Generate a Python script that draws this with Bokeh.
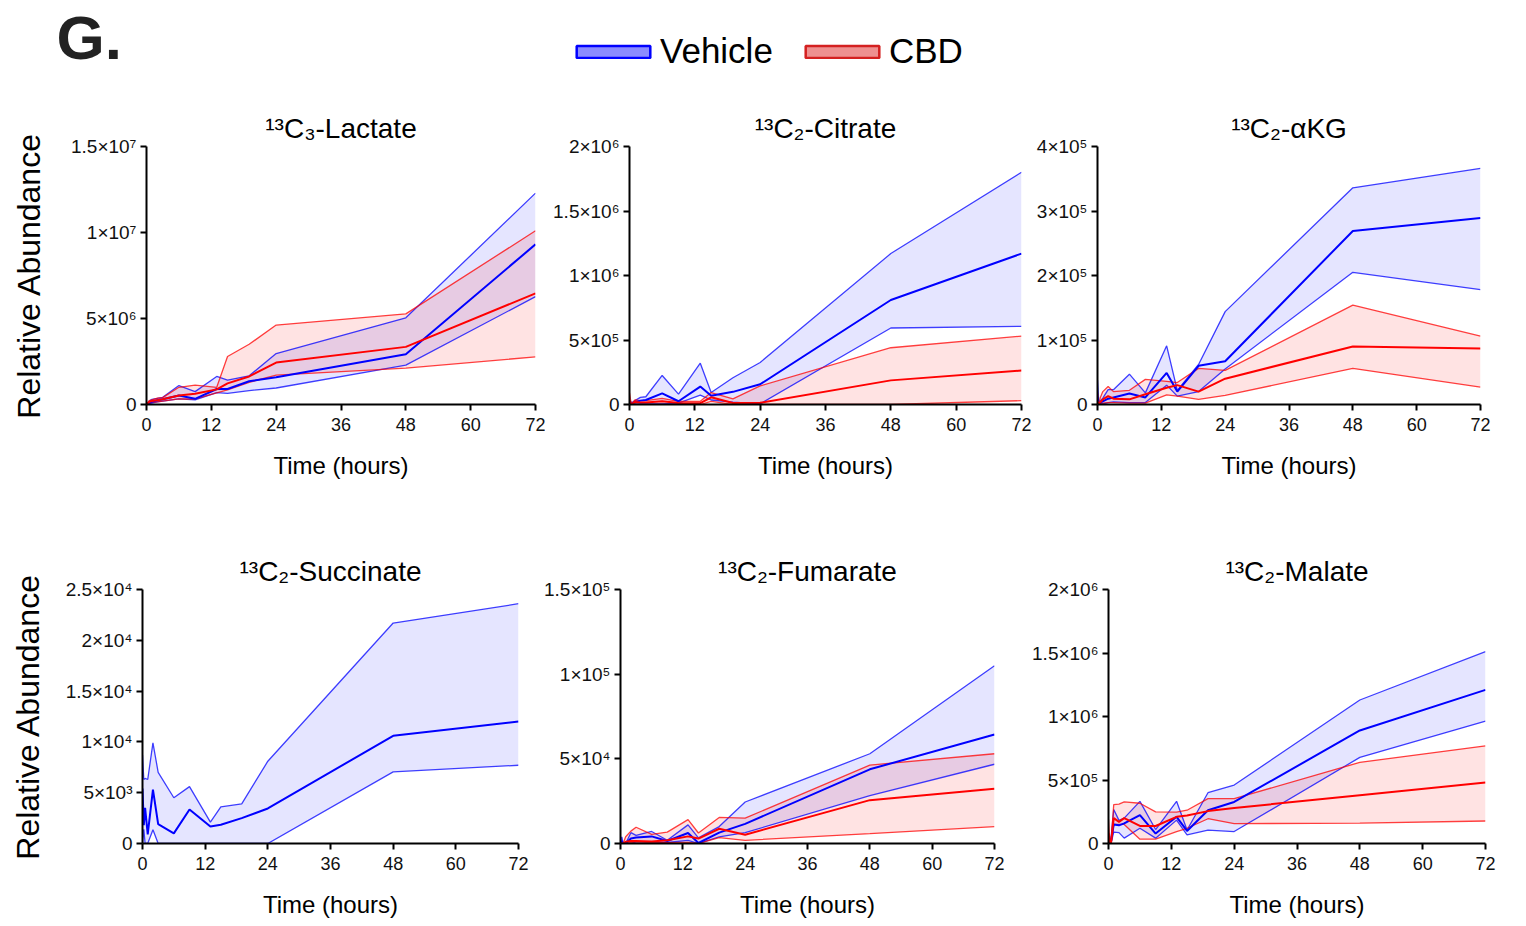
import math
from bokeh.plotting import figure
from bokeh.models import Range1d, FixedTicker, Label, Legend, LegendItem
from bokeh.layouts import column, row
from bokeh.embed import file_html
from bokeh.resources import INLINE

FONT = "Liberation Sans"

# ---------------- data ----------------
times = [0, 0.25, 0.5, 1, 2, 3, 6, 9, 13, 15, 19, 24, 48, 72]
x_ticks = [0, 12, 24, 36, 48, 60, 72]
x_label = "Time (hours)"
y_label = "Relative Abundance"
groups = ["Vehicle", "CBD"]

# 13C3-Lactate (x1e6)
lactate_unit = 1e6
lactate_veh_upper = [0, 0.10, 0.20, 0.30, 0.35, 0.42, 1.10, 0.75, 1.63, 1.42, 1.67, 2.96, 5.04, 12.29]
lactate_veh_mean = [0, 0.05, 0.10, 0.15, 0.25, 0.30, 0.52, 0.33, 0.90, 0.90, 1.35, 1.58, 2.92, 9.31]
lactate_veh_lower = [0, 0.02, 0.05, 0.08, 0.15, 0.20, 0.33, 0.27, 0.69, 0.65, 0.81, 0.96, 2.29, 6.27]
lactate_cbd_upper = [0, 0.12, 0.22, 0.27, 0.37, 0.40, 1.00, 1.13, 1.00, 2.79, 3.50, 4.62, 5.27, 10.10]
lactate_cbd_mean = [0, 0.08, 0.15, 0.20, 0.25, 0.30, 0.52, 0.62, 0.88, 1.23, 1.63, 2.44, 3.35, 6.46]
lactate_cbd_lower = [0, 0.04, 0.08, 0.12, 0.15, 0.20, 0.33, 0.32, 0.67, 0.85, 1.29, 1.71, 2.12, 2.77]
lactate_ticks = [0, 5e6, 1e7, 1.5e7]
lactate_tick_labels = ["0", "5×10⁶", "1×10⁷", "1.5×10⁷"]

# 13C2-Citrate (x1e6)
citrate_unit = 1e6
citrate_veh_upper = [0.03, 0.02, 0.015, 0.03, 0.055, 0.06, 0.225, 0.08, 0.32, 0.093, 0.207, 0.326, 1.17, 1.80]
citrate_veh_mean = [0.02, 0.01, 0.01, 0.015, 0.03, 0.035, 0.086, 0.025, 0.139, 0.068, 0.098, 0.157, 0.81, 1.17]
citrate_veh_lower = [0, 0, 0, 0, 0.005, 0.005, 0.005, 0.01, 0.073, 0.035, 0.018, 0.005, 0.593, 0.606]
citrate_cbd_upper = [0.09, 0.02, 0.01, 0.035, 0.03, 0.03, 0.048, 0.025, 0.025, 0.093, 0.043, 0.144, 0.44, 0.53]
citrate_cbd_mean = [0.03, 0.01, 0.005, 0.02, 0.015, 0.015, 0.025, 0.012, 0.01, 0.056, 0.012, 0.013, 0.187, 0.263]
citrate_cbd_lower = [0, 0, 0, 0, 0, 0, 0, 0, 0, 0.025, 0, 0, 0, 0.03]
citrate_ticks = [0, 5e5, 1e6, 1.5e6, 2e6]
citrate_tick_labels = ["0", "5×10⁵", "1×10⁶", "1.5×10⁶", "2×10⁶"]

# 13C2-aKG (x1e5)
akg_unit = 1e5
akg_veh_upper = [0.38, 0.03, 0.05, 0.10, 0.23, 0.23, 0.47, 0.18, 0.91, 0.22, 0.62, 1.44, 3.36, 3.66]
akg_veh_mean = [0.12, 0.01, 0.02, 0.05, 0.09, 0.11, 0.17, 0.11, 0.49, 0.20, 0.60, 0.67, 2.69, 2.89]
akg_veh_lower = [0, 0, 0, 0.01, 0.03, 0.04, 0.03, 0.03, 0.30, 0.13, 0.20, 0.55, 2.05, 1.78]
akg_cbd_upper = [0.18, 0.01, 0.10, 0.20, 0.28, 0.20, 0.22, 0.39, 0.36, 0.34, 0.56, 0.53, 1.54, 1.06]
akg_cbd_mean = [0.05, 0.01, 0.03, 0.08, 0.13, 0.09, 0.08, 0.16, 0.26, 0.30, 0.20, 0.40, 0.90, 0.87]
akg_cbd_lower = [0, 0, 0, 0.02, 0.03, 0.03, 0.02, 0.02, 0.15, 0.13, 0.08, 0.14, 0.56, 0.27]
akg_ticks = [0, 1e5, 2e5, 3e5, 4e5]
akg_tick_labels = ["0", "1×10⁵", "2×10⁵", "3×10⁵", "4×10⁵"]

# 13C2-Succinate (x1e3) - Vehicle only
succinate_unit = 1e3
succinate_veh_upper = [8.7, 6.3, 6.4, 6.3, 9.9, 7.0, 4.5, 5.6, 2.1, 3.6, 3.9, 8.1, 21.7, 23.6]
succinate_veh_mean = [5.4, 1.8, 3.5, 0.9, 5.3, 1.9, 1.0, 3.35, 1.67, 1.84, 2.5, 3.45, 10.6, 12.0]
succinate_veh_lower = [0, 1.4, 0, 0, 1.35, 0, 0, 0, 0, 0, 0, 0, 7.05, 7.7]
succinate_ticks = [0, 5e3, 1e4, 1.5e4, 2e4, 2.5e4]
succinate_tick_labels = ["0", "5×10³", "1×10⁴", "1.5×10⁴", "2×10⁴", "2.5×10⁴"]

# 13C2-Fumarate (x1e3)
fumarate_unit = 1e3
fumarate_veh_upper = [0, 3.9, 0, 0, 6.4, 4.8, 7.1, 1.9, 11.0, 3.3, 10.0, 24.5, 53.0, 105.0]
fumarate_veh_mean = [0, 1.5, 0, 0, 3.0, 3.5, 4.2, 1.5, 6.2, 0.3, 6.4, 11.6, 43.8, 64.4]
fumarate_veh_lower = [0, 0, 0, 0, 0, 1.0, 1.0, 0.6, 1.9, 0, 3.9, 6.4, 28.3, 46.8]
fumarate_cbd_upper = [0, 0, 0, 4.0, 7.3, 9.6, 5.4, 6.7, 14.1, 6.2, 15.4, 15.0, 46.3, 53.0]
fumarate_cbd_mean = [0, 0, 0, 1.0, 1.5, 1.5, 1.2, 1.9, 4.2, 2.9, 8.7, 5.2, 25.6, 32.4]
fumarate_cbd_lower = [0, 0, 0, 0, 0.5, 1.0, 0.5, 0.5, 0.6, 0, 3.5, 1.9, 5.8, 10.0]
fumarate_ticks = [0, 5e4, 1e5, 1.5e5]
fumarate_tick_labels = ["0", "5×10⁴", "1×10⁵", "1.5×10⁵"]

# 13C2-Malate (x1e6)
malate_unit = 1e6
malate_veh_upper = [0.01, 0.01, 0.05, 0.267, 0.182, 0.20, 0.332, 0.11, 0.332, 0.106, 0.40, 0.46, 1.13, 1.51]
malate_veh_mean = [0.005, 0.005, 0.02, 0.15, 0.143, 0.158, 0.223, 0.078, 0.21, 0.099, 0.262, 0.327, 0.89, 1.21]
malate_veh_lower = [0, 0, 0.005, 0.09, 0.086, 0.042, 0.12, 0.042, 0.184, 0.068, 0.106, 0.094, 0.678, 0.963]
malate_cbd_upper = [0.19, 0.01, 0.02, 0.306, 0.31, 0.327, 0.317, 0.249, 0.247, 0.262, 0.353, 0.353, 0.639, 0.769]
malate_cbd_mean = [0.08, 0.005, 0.01, 0.20, 0.17, 0.20, 0.138, 0.138, 0.21, 0.22, 0.255, 0.28, 0.379, 0.48]
malate_cbd_lower = [0, 0, 0, 0.15, 0.15, 0.15, 0.034, 0.034, 0.094, 0.12, 0.195, 0.156, 0.161, 0.177]
malate_ticks = [0, 5e5, 1e6, 1.5e6, 2e6]
malate_tick_labels = ["0", "5×10⁵", "1×10⁶", "1.5×10⁶", "2×10⁶"]

lactate_title = "¹³C₃-Lactate"
citrate_title = "¹³C₂-Citrate"
akg_title = "¹³C₂-αKG"
succinate_title = "¹³C₂-Succinate"
fumarate_title = "¹³C₂-Fumarate"
malate_title = "¹³C₂-Malate"

# ---------------- style ----------------
VEH = "#0000ff"
CBD = "#ff0000"


def make_panel(width, height, bl, br, bt, bb, ticks, tick_labels, title, label_standoff,
               veh, cbd, unit, ylab_standoff=None):
    ymax = ticks[-1]
    p = figure(width=width, height=height, x_range=Range1d(0, 72), y_range=Range1d(0, ymax),
               output_backend="svg", toolbar_location=None, title=title,
               min_border_left=bl, min_border_right=br, min_border_top=bt, min_border_bottom=bb,
               outline_line_color=None, background_fill_color="white", border_fill_color="white")
    p.title.align = "center"
    p.title.text_font = FONT
    p.title.text_font_size = "28px"
    p.title.text_font_style = "normal"
    p.title.text_color = "black"
    p.title.standoff = 5
    p.grid.visible = False
    series = [(veh, VEH, 0.10)]
    if cbd is not None:
        series.append((cbd, CBD, 0.11))
    for (up, mn, lo), col, fa in series:
        p.varea(x=times, y1=[v * unit for v in lo], y2=[v * unit for v in up],
                fill_color=col, fill_alpha=fa)
    for (up, mn, lo), col, fa in series:
        p.line(times, [v * unit for v in up], line_color=col, line_width=1.3, line_alpha=0.75)
        p.line(times, [v * unit for v in lo], line_color=col, line_width=1.3, line_alpha=0.75)
    for (up, mn, lo), col, fa in series:
        p.line(times, [v * unit for v in mn], line_color=col, line_width=2)

    p.xaxis.ticker = FixedTicker(ticks=x_ticks)
    p.yaxis.ticker = FixedTicker(ticks=ticks)
    p.yaxis.major_label_overrides = {float(t): l for t, l in zip(ticks, tick_labels)}
    for ax in (p.xaxis[0], p.yaxis[0]):
        ax.axis_line_color = "black"
        ax.axis_line_width = 2
        ax.major_tick_line_color = "black"
        ax.major_tick_line_width = 2
        ax.major_tick_out = 6
        ax.major_tick_in = 0
        ax.minor_tick_out = 0
        ax.minor_tick_in = 0
        ax.major_label_text_font = FONT
        ax.major_label_text_color = "#111111"
    p.xaxis.major_label_text_font_size = "18px"
    p.xaxis.major_label_standoff = 7
    p.yaxis.major_label_text_font_size = "19px"
    p.yaxis.major_label_standoff = 4
    p.xaxis.axis_label = x_label
    p.xaxis.axis_label_text_font = FONT
    p.xaxis.axis_label_text_font_size = "24px"
    p.xaxis.axis_label_text_font_style = "normal"
    p.xaxis.axis_label_text_color = "black"
    p.xaxis.axis_label_standoff = label_standoff
    if ylab_standoff is not None:
        p.yaxis.axis_label = y_label
        p.yaxis.axis_label_text_font = FONT
        p.yaxis.axis_label_text_font_size = "32px"
        p.yaxis.axis_label_text_font_style = "normal"
        p.yaxis.axis_label_text_color = "black"
        p.yaxis.axis_label_standoff = ylab_standoff
    return p


# ---------------- header ----------------
header = figure(width=1520, height=84, x_range=Range1d(0, 1520), y_range=Range1d(0, 84),
                output_backend="svg", toolbar_location=None, min_border=0,
                x_axis_type=None, y_axis_type=None, outline_line_color=None)
header.grid.visible = False
r_v = header.quad(left=[-20], right=[-10], top=[-20], bottom=[-10], fill_color=VEH,
                  fill_alpha=0.45, line_color=VEH, line_width=2.5)
r_c = header.quad(left=[-20], right=[-10], top=[-20], bottom=[-10], fill_color="#dd2222",
                  fill_alpha=0.5, line_color="#d42020", line_width=2.5)
legend = Legend(items=[LegendItem(label=groups[0], renderers=[r_v]),
                       LegendItem(label=groups[1], renderers=[r_c])],
                orientation="horizontal", location=(567, 13), glyph_width=92, glyph_height=15,
                label_text_font=FONT, label_text_font_size="35px", label_text_color="black",
                label_standoff=1, spacing=23, padding=0, margin=0,
                border_line_color=None, background_fill_alpha=0)
header.add_layout(legend)
header.add_layout(Label(x=56, y=47, text="G.", text_font=FONT, text_font_size="62px",
                        text_font_style="bold", text_color="#222222", text_baseline="middle"))

# ---------------- panels ----------------
p1 = make_panel(545, 440, 146, 10, 60, 120, lactate_ticks, lactate_tick_labels, lactate_title, 18,
                (lactate_veh_upper, lactate_veh_mean, lactate_veh_lower),
                (lactate_cbd_upper, lactate_cbd_mean, lactate_cbd_lower), lactate_unit,
                ylab_standoff=21)
p2 = make_panel(487, 440, 84, 11, 56, 120, citrate_ticks, citrate_tick_labels, citrate_title, 18,
                (citrate_veh_upper, citrate_veh_mean, citrate_veh_lower),
                (citrate_cbd_upper, citrate_cbd_mean, citrate_cbd_lower), citrate_unit)
p3 = make_panel(490, 440, 65, 42, 62, 114, akg_ticks, akg_tick_labels, akg_title, 18,
                (akg_veh_upper, akg_veh_mean, akg_veh_lower),
                (akg_cbd_upper, akg_cbd_mean, akg_cbd_lower), akg_unit)
p4 = make_panel(535, 400, 142, 17, 62, 78, succinate_ticks, succinate_tick_labels, succinate_title, 18,
                (succinate_veh_upper, succinate_veh_mean, succinate_veh_lower),
                None, succinate_unit, ylab_standoff=17)
p5 = make_panel(485, 400, 85, 26, 60, 81, fumarate_ticks, fumarate_tick_labels, fumarate_title, 18,
                (fumarate_veh_upper, fumarate_veh_mean, fumarate_veh_lower),
                (fumarate_cbd_upper, fumarate_cbd_mean, fumarate_cbd_lower), fumarate_unit)
p6 = make_panel(500, 400, 88, 35, 65, 78, malate_ticks, malate_tick_labels, malate_title, 18,
                (malate_veh_upper, malate_veh_mean, malate_veh_lower),
                (malate_cbd_upper, malate_cbd_mean, malate_cbd_lower), malate_unit)

layout = column(header, row(p1, p2, p3), row(p4, p5, p6))
open("out.html", "w").write(file_html(layout, INLINE))
